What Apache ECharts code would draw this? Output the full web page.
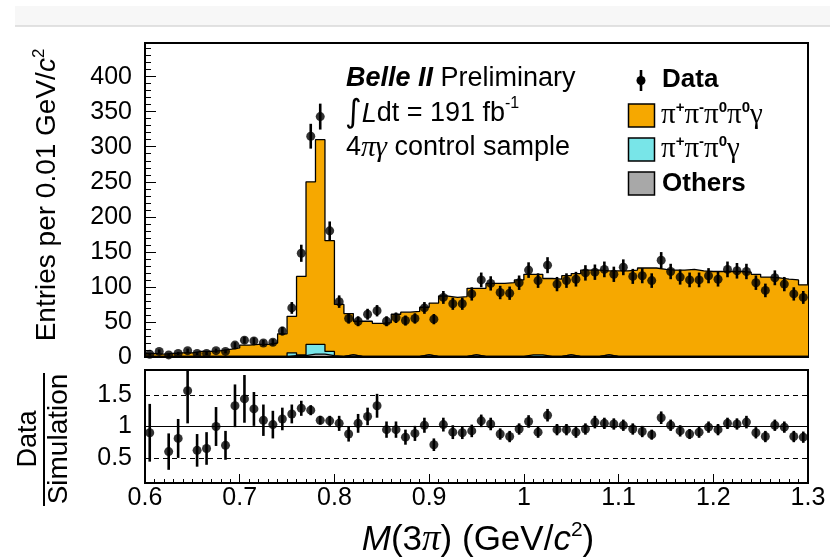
<!DOCTYPE html>
<html>
<head>
<meta charset="utf-8">
<script src="https://cdn.jsdelivr.net/npm/echarts@6/dist/echarts.min.js"></script>
<style>
  html, body { margin: 0; background: #fff; }
  #chart { width: 830px; height: 557px; }
</style>
</head>
<body>
<div id="chart"></div>
<script>
// bin edges of M(3pi), 0.01 GeV bins
const binEdges = [0.60, 0.61, 0.62, 0.63, 0.64, 0.65, 0.66, 0.67, 0.68, 0.69,
  0.70, 0.71, 0.72, 0.73, 0.74, 0.75, 0.76, 0.77, 0.78, 0.79,
  0.80, 0.81, 0.82, 0.83, 0.84, 0.85, 0.86, 0.87, 0.88, 0.89,
  0.90, 0.91, 0.92, 0.93, 0.94, 0.95, 0.96, 0.97, 0.98, 0.99,
  1.00, 1.01, 1.02, 1.03, 1.04, 1.05, 1.06, 1.07, 1.08, 1.09,
  1.10, 1.11, 1.12, 1.13, 1.14, 1.15, 1.16, 1.17, 1.18, 1.19,
  1.20, 1.21, 1.22, 1.23, 1.24, 1.25, 1.26, 1.27, 1.28, 1.29, 1.30]

// data entries and errors
const dataCounts = [4, 8, 3, 5, 9, 5, 5, 9, 8, 17,
  24, 23, 20, 21, 37, 70, 148, 315, 343, 180,
  79, 55, 51, 61, 66, 51, 56, 52, 55, 70,
  54, 85, 76, 76, 90, 110, 105, 92, 91, 106,
  124, 109, 131, 104, 109, 111, 120, 121, 125, 118,
  128, 115, 116, 109, 138, 122, 114, 110, 110, 116,
  111, 125, 123, 122, 106, 95, 113, 104, 90, 85]
const dataErrors = [2.0, 2.8, 1.7, 2.2, 3.0, 2.2, 2.2, 3.0, 2.8, 4.1,
  4.9, 4.8, 4.5, 4.6, 6.1, 8.4, 12.2, 17.7, 18.5, 13.4,
  8.9, 7.4, 7.1, 7.8, 8.1, 7.1, 7.5, 7.2, 7.4, 8.4,
  7.3, 9.2, 8.7, 8.7, 9.5, 10.5, 10.2, 9.6, 9.5, 10.3,
  11.1, 10.4, 11.4, 10.2, 10.4, 10.5, 11.0, 11.0, 11.2, 10.9,
  11.3, 10.7, 10.8, 10.4, 11.7, 11.0, 10.7, 10.5, 10.5, 10.8,
  10.5, 11.2, 11.1, 11.0, 10.3, 9.7, 10.6, 10.2, 9.5, 9.2]

// simulation components
const mc4pi = [4, 3, 4, 5, 5, 7, 7, 8, 10, 12,
  16, 17, 17, 19, 32, 52, 112, 232, 292, 158,
  74, 59, 50, 50, 47, 48, 60, 63, 64, 68,
  76, 86, 84, 85, 95, 97, 104, 104, 105, 109,
  115, 115, 111, 110, 113, 118, 123, 123, 120, 122,
  122, 123, 126, 126, 124, 123, 123, 124, 122, 121,
  121, 121, 121, 120, 117, 113, 112, 110, 109, 102]
const mc3pi = [0, 0, 0, 0, 0, 0, 0, 0, 0, 0,
  0, 0, 0, 0, 0, 4, 1, 14, 14, 6,
  0, 0, 0, 0, 0, 0, 0, 0, 0, 0,
  0, 0, 0, 0, 0, 0, 0, 0, 0, 0,
  2, 2, 0, 0, 0, 0, 0, 0, 0, 0,
  0, 0, 0, 0, 0, 0, 0, 0, 0, 0,
  0, 0, 0, 0, 0, 0, 0, 0, 0, 0]
const mcOthers = [1, 1, 1, 1, 1, 1, 1, 1, 1, 1,
  1, 1, 1, 1, 1, 2, 2, 4, 4, 2,
  1, 3, 1, 1, 1, 1, 1, 1, 1, 3,
  1, 1, 1, 1, 3, 1, 1, 1, 1, 1,
  1, 1, 1, 1, 3, 1, 1, 1, 3, 1,
  1, 1, 1, 1, 1, 1, 1, 1, 1, 1,
  1, 1, 1, 1, 1, 1, 1, 1, 1, 1]

// Data / Simulation
const ratio = [0.90, null, 0.60, 0.81, 1.57, 0.62, 0.65, 1.00, 0.70, 1.33,
  1.44, 1.28, 1.10, 1.03, 1.12, 1.20, 1.29, 1.26, 1.10, 1.09,
  1.05, 0.88, 1.05, 1.16, 1.33, 0.95, 0.95, 0.83, 0.89, 1.02,
  0.71, 1.03, 0.91, 0.90, 0.93, 1.09, 1.04, 0.88, 0.84, 0.96,
  1.08, 0.91, 1.18, 0.95, 0.95, 0.91, 0.96, 1.07, 1.05, 1.04,
  1.02, 0.96, 0.92, 0.87, 1.14, 1.02, 0.93, 0.88, 0.91, 0.99,
  0.95, 1.05, 1.04, 1.07, 0.90, 0.84, 1.02, 0.99, 0.84, 0.83]
const ratioErrors = [0.46, null, 0.29, 0.31, 0.52, 0.26, 0.26, 0.31, 0.23, 0.34,
  0.38, 0.27, 0.25, 0.22, 0.18, 0.15, 0.12, 0.08, 0.07, 0.08,
  0.12, 0.12, 0.15, 0.14, 0.19, 0.13, 0.13, 0.12, 0.12, 0.12,
  0.10, 0.11, 0.11, 0.10, 0.10, 0.10, 0.10, 0.09, 0.09, 0.09,
  0.10, 0.09, 0.10, 0.09, 0.09, 0.09, 0.09, 0.10, 0.09, 0.09,
  0.09, 0.09, 0.09, 0.08, 0.10, 0.09, 0.09, 0.08, 0.09, 0.09,
  0.09, 0.09, 0.09, 0.10, 0.09, 0.09, 0.09, 0.09, 0.09, 0.09]

const ratioTickLabels = ['0.5', '1', '1.5']

const ORANGE = '#f6a800'
const CYAN = '#78e5e8'
const GREY = '#a8a8a8'
const FONT = 'Liberation Sans'

const centers = binEdges.slice(0, -1).map((e, i) => (e + binEdges[i + 1]) / 2)
// stacked sums
const stOthers = mcOthers.slice()
const st3pi = mcOthers.map((v, i) => v + mc3pi[i])
const stTotal = st3pi.map((v, i) => v + mc4pi[i])
const stepData = arr => binEdges.map((e, i) => [e, arr[Math.min(i, arr.length - 1)]])

const errBar = (params, api) => {
  const x = api.value(0), y = api.value(1), e = api.value(2)
  const a = api.coord([x, y - e]), b = api.coord([x, y + e])
  return { type: 'line', shape: { x1: a[0], y1: a[1], x2: b[0], y2: b[1] },
    style: { stroke: '#000', lineWidth: 2.6 } }
}

const histLine = (name, arr, color, z) => ({
  name, type: 'line', xAxisIndex: 0, yAxisIndex: 0, step: 'end',
  data: stepData(arr), symbol: 'none', z,
  lineStyle: { color: '#000', width: 1.3 },
  areaStyle: { color, opacity: 1 }
})

const ratioPts = centers.map((c, i) => [c, ratio[i], ratioErrors[i]]).filter(d => d[1] != null)
const dataPts = centers.map((c, i) => [c, dataCounts[i], dataErrors[i]])

const chart = echarts.init(document.getElementById('chart'))
const axisFont = { fontFamily: FONT, fontSize: 25, color: '#000' }
const piRich = {
  p: { fontFamily: 'Liberation Serif', fontSize: 29, lineHeight: 30 },
  s: { fontFamily: FONT, fontSize: 15, fontWeight: 'bold', verticalAlign: 'top', lineHeight: 23 }
}

chart.setOption({
  backgroundColor: '#fff',
  animation: false,
  grid: [
    { left: 145, top: 43, width: 663, height: 314, show: true, borderColor: '#000', borderWidth: 2, backgroundColor: 'transparent' },
    { left: 145, top: 370, width: 663, height: 113, show: true, borderColor: '#000', borderWidth: 2, backgroundColor: 'transparent' }
  ],
  xAxis: [
    { type: 'value', gridIndex: 0, min: 0.6, max: 1.3, interval: 0.1, z: 10,
      axisLine: { show: true, lineStyle: { color: '#000', width: 2 } },
      axisTick: { show: false }, axisLabel: { show: false }, splitLine: { show: false } },
    { type: 'value', gridIndex: 1, min: 0.6, max: 1.3, interval: 0.1, z: 10,
      axisLine: { show: true, lineStyle: { color: '#000', width: 2 } },
      axisTick: { show: true, inside: true, length: 9, lineStyle: { color: '#000', width: 1 } },
      minorTick: { show: true, splitNumber: 10, length: 4, lineStyle: { color: '#000', width: 1 } },
      axisLabel: { ...axisFont, margin: 3, formatter: v => String(Number(v.toFixed(2))) },
      splitLine: { show: false } }
  ],
  yAxis: [
    { type: 'value', gridIndex: 0, min: 0, max: 448, interval: 50, z: 10,
      axisLine: { show: true, lineStyle: { color: '#000', width: 2 } },
      axisTick: { show: true, inside: true, length: 11, lineStyle: { color: '#000', width: 1 } },
      minorTick: { show: true, splitNumber: 5, length: 6, lineStyle: { color: '#000', width: 1 } },
      axisLabel: { ...axisFont, margin: 13, showMaxLabel: false,
        formatter: v => (v % 50 === 0 ? String(v) : '') },
      splitLine: { show: false } },
    { type: 'value', gridIndex: 1, min: 0.1, max: 1.9, interval: 0.1, z: 10,
      axisLine: { show: true, lineStyle: { color: '#000', width: 2 } },
      axisTick: { show: false },
      axisLabel: { ...axisFont, margin: 13,
        formatter: v => { const s = String(Number(v.toFixed(2))); return ratioTickLabels.includes(s) ? s : '' } },
      splitLine: { show: false } }
  ],
  series: [
    histLine('π+π-π0π0γ', stTotal, ORANGE, 2),
    histLine('π+π-π0γ', st3pi, CYAN, 3),
    histLine('Others', stOthers, GREY, 4),
    { name: 'Data err', type: 'custom', xAxisIndex: 0, yAxisIndex: 0, clip: true, z: 5,
      renderItem: errBar, data: dataPts },
    { name: 'Data', type: 'scatter', xAxisIndex: 0, yAxisIndex: 0, z: 6,
      symbol: 'circle', symbolSize: 9, itemStyle: { color: '#000' }, data: dataPts },
    { name: 'Ratio err', type: 'custom', xAxisIndex: 1, yAxisIndex: 1, clip: true, z: 5,
      renderItem: errBar, data: ratioPts },
    { name: 'Ratio', type: 'scatter', xAxisIndex: 1, yAxisIndex: 1, z: 6,
      symbol: 'circle', symbolSize: 9, itemStyle: { color: '#000' }, data: ratioPts,
      markLine: { silent: true, symbol: ['none', 'none'], label: { show: false }, animation: false,
        lineStyle: { color: '#000', width: 1, type: [5, 4] },
        data: [ { yAxis: 1, lineStyle: { type: 'solid', color: '#000', width: 1.2 } }, { yAxis: 0.5 }, { yAxis: 1.5 } ] } }
  ],
  graphic: [
    // page strip on top
    { type: 'rect', shape: { x: 15, y: 6, width: 815, height: 20 }, style: { fill: '#f7f7f7' }, silent: true },
    { type: 'line', shape: { x1: 15, y1: 26, x2: 830, y2: 26 }, style: { stroke: '#d9d9d9', lineWidth: 1.5 }, silent: true },
    // texts
    { type: 'text', x: 346, y: 79, style: { text: '{b|Belle II} Preliminary', fontFamily: FONT, fontSize: 27, fill: '#000', verticalAlign: 'middle',
      rich: { b: { fontFamily: FONT, fontSize: 27, fontWeight: 'bold', fontStyle: 'italic' } } } },
    { type: 'text', x: 345, y: 114, style: { text: '{int|∫}{i|L}dt = 191 fb{s|-1}', fontFamily: FONT, fontSize: 27, fill: '#000', verticalAlign: 'middle',
      rich: { int: { fontFamily: 'DejaVu Sans', fontSize: 32, lineHeight: 36 },
        i: { fontFamily: FONT, fontSize: 27, fontStyle: 'italic', lineHeight: 36 },
        s: { fontFamily: FONT, fontSize: 16, verticalAlign: 'top', lineHeight: 28 } } } },
    { type: 'text', x: 346, y: 148, style: { text: '4{p|πγ} control sample', fontFamily: FONT, fontSize: 27, fill: '#000', verticalAlign: 'middle',
      rich: { p: { fontFamily: 'Liberation Serif', fontSize: 29, fontStyle: 'italic' } } } },
    // legend
    { type: 'line', shape: { x1: 641, y1: 70, x2: 641, y2: 91 }, style: { stroke: '#000', lineWidth: 2.6 } },
    { type: 'circle', shape: { cx: 641, cy: 80.5, r: 4.5 }, style: { fill: '#000' } },
    { type: 'text', x: 662, y: 80, style: { text: 'Data', fontFamily: FONT, fontSize: 26, fontWeight: 'bold', fill: '#000', verticalAlign: 'middle' } },
    { type: 'rect', shape: { x: 628.5, y: 104, width: 26, height: 23 }, style: { fill: ORANGE, stroke: '#000', lineWidth: 1.5 } },
    { type: 'text', x: 661, y: 115, style: { text: '{p|π}{s|+}{p|π}{s|-}{p|π}{s|0}{p|π}{s|0}{p|γ}', fill: '#000', verticalAlign: 'middle', rich: piRich } },
    { type: 'rect', shape: { x: 628.5, y: 138, width: 26, height: 23 }, style: { fill: CYAN, stroke: '#000', lineWidth: 1.5 } },
    { type: 'text', x: 661, y: 149, style: { text: '{p|π}{s|+}{p|π}{s|-}{p|π}{s|0}{p|γ}', fill: '#000', verticalAlign: 'middle', rich: piRich } },
    { type: 'rect', shape: { x: 628.5, y: 172, width: 26, height: 23 }, style: { fill: GREY, stroke: '#000', lineWidth: 1.5 } },
    { type: 'text', x: 662, y: 184, style: { text: 'Others', fontFamily: FONT, fontSize: 26, fontWeight: 'bold', fill: '#000', verticalAlign: 'middle' } },
    // axis titles
    { type: 'text', x: 47, y: 195, rotation: Math.PI / 2, style: { text: 'Entries per 0.01 GeV/{i|c}{s|2}', fontFamily: FONT, fontSize: 28, fill: '#000', align: 'center', verticalAlign: 'middle',
      rich: { i: { fontFamily: FONT, fontSize: 28, fontStyle: 'italic', lineHeight: 32 }, s: { fontFamily: FONT, fontSize: 17, verticalAlign: 'top', lineHeight: 28 } } } },
    { type: 'text', x: 29, y: 439, rotation: Math.PI / 2, style: { text: 'Data', fontFamily: FONT, fontSize: 27, fill: '#000', align: 'center', verticalAlign: 'middle' } },
    { type: 'line', shape: { x1: 44, y1: 373, x2: 44, y2: 506 }, style: { stroke: '#000', lineWidth: 2 } },
    { type: 'text', x: 59, y: 439, rotation: Math.PI / 2, style: { text: 'Simulation', fontFamily: FONT, fontSize: 28, fill: '#000', align: 'center', verticalAlign: 'middle' } },
    { type: 'text', x: 478, y: 540, style: { text: '{i|M}(3{p|π}) (GeV/{i|c}{s|2})', fontFamily: FONT, fontSize: 35, fill: '#000', align: 'center', verticalAlign: 'middle',
      rich: { i: { fontFamily: FONT, fontSize: 35, fontStyle: 'italic', lineHeight: 40 }, p: { fontFamily: 'Liberation Serif', fontSize: 37, fontStyle: 'italic', lineHeight: 40 },
        s: { fontFamily: FONT, fontSize: 21, verticalAlign: 'top', lineHeight: 36 } } } }
  ]
})
</script>
</body>
</html>
